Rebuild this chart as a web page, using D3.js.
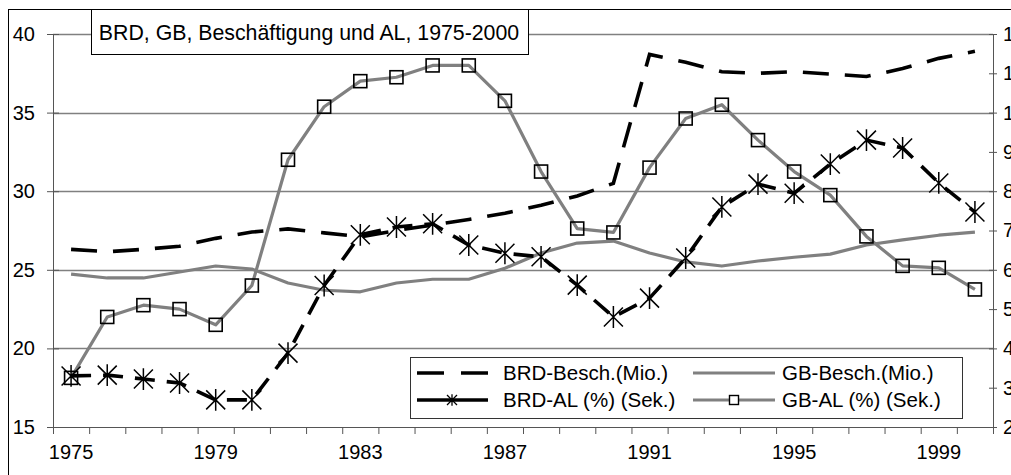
<!DOCTYPE html>
<html><head><meta charset="utf-8">
<script src="https://cdn.jsdelivr.net/npm/d3@7"></script>
<style>
html,body{margin:0;padding:0;background:#fff;overflow:hidden}
svg{display:block;font-family:"Liberation Sans",Arial,sans-serif}
</style></head>
<body>
<svg id="chart" width="1011" height="475"></svg>
<script>
const years = [1975,1976,1977,1978,1979,1980,1981,1982,1983,1984,1985,1986,1987,1988,1989,1990,1991,1992,1993,1994,1995,1996,1997,1998,1999,2000];
const yearLabels = [1975,1979,1983,1987,1991,1995,1999];
const brdBesch = [26.3,26.15,26.3,26.5,27.0,27.4,27.6,27.35,27.1,27.5,27.85,28.2,28.6,29.1,29.7,30.5,38.7,38.2,37.6,37.5,37.6,37.45,37.3,37.8,38.45,38.9];
const gbBesch  = [24.73,24.48,24.48,24.86,25.24,25.05,24.16,23.7,23.6,24.16,24.4,24.4,25.1,26.07,26.7,26.83,26.07,25.5,25.24,25.56,25.8,26.0,26.58,26.9,27.2,27.4];
const brdAL    = [3.3,3.32,3.22,3.12,2.69,2.69,3.88,5.6,6.89,7.09,7.17,6.63,6.42,6.33,5.61,4.8,5.28,6.3,7.6,8.18,7.95,8.69,9.3,9.1,8.21,7.47];
const gbAL     = [3.25,4.8,5.1,5.0,4.6,5.6,8.8,10.15,10.8,10.9,11.2,11.2,10.3,8.5,7.05,6.95,8.6,9.85,10.2,9.3,8.5,7.9,6.85,6.1,6.05,5.5];
const leftTicks = [15,20,25,30,35,40];
const rightTicks = [2,3,4,5,6,7,8,9,10,11,12];
const title = "BRD, GB, Beschäftigung und AL, 1975-2000";
const legendLabels = ["BRD-Besch.(Mio.)","GB-Besch.(Mio.)","BRD-AL (%) (Sek.)","GB-AL (%) (Sek.)"];

const svg = d3.select("#chart");
const L = 53, R = 993, T = 34, B = 427;
const GRAY = "#808080";

const x = d3.scaleBand().domain(years).range([L, R]).padding(0);
const xc = d => x(d) + x.bandwidth()/2;
const xIdx = d3.scaleLinear().domain([0, years.length]).range([L, R]);
const yL = d3.scaleLinear().domain([15, 40]).range([B, T]);
const yR = d3.scaleLinear().domain([2, 12]).range([B, T]);

// chart area border
svg.append("rect").attr("x", 8.5).attr("y", 9.5).attr("width", 1100).attr("height", 600)
  .attr("fill", "#fff").attr("stroke", "#000").attr("stroke-width", 1);

// gridlines
svg.append("g").selectAll("line").data(leftTicks.filter(v => v > 15)).join("line")
  .attr("x1", L).attr("x2", R).attr("y1", d => Math.round(yL(d)) + 0.5).attr("y2", d => Math.round(yL(d)) + 0.5)
  .attr("stroke", GRAY).attr("stroke-width", 1.3);

// left axis
const gL = svg.append("g").attr("transform", `translate(${L},0)`)
  .call(d3.axisLeft(yL).tickValues(leftTicks).tickSize(6).tickPadding(12));
gL.select(".domain").attr("stroke", "#555");
gL.selectAll(".tick line").attr("stroke", "#555").attr("x2", 6).attr("x1", -6);
gL.selectAll("text").attr("font-size", 20).attr("fill", "#000").attr("font-family", "Liberation Sans, Arial");

// right axis
const gR = svg.append("g").attr("transform", `translate(${R},0)`)
  .call(d3.axisRight(yR).tickValues(rightTicks).tickSize(4).tickPadding(6));
gR.select(".domain").attr("stroke", "#555");
gR.selectAll(".tick line").attr("stroke", "#555").attr("x1", -4).attr("x2", 4);
gR.selectAll("text").attr("font-size", 20).attr("fill", "#000").attr("x", 10).attr("font-family", "Liberation Sans, Arial");

// bottom axis (ticks between categories)
const gB = svg.append("g").attr("transform", `translate(0,${B})`)
  .call(d3.axisBottom(xIdx).tickValues(d3.range(0, years.length + 1)).tickSize(7).tickFormat(""));
gB.select(".domain").attr("stroke", "#555");
gB.selectAll(".tick line").attr("stroke", "#555");
svg.append("g").selectAll("text").data(yearLabels).join("text")
  .attr("x", d => xc(d)).attr("y", 459).attr("text-anchor", "middle")
  .attr("font-size", 20).text(d => d);

// lines
const lineL = d3.line().x((d, i) => xc(years[i])).y(d => yL(d));
const lineR = d3.line().x((d, i) => xc(years[i])).y(d => yR(d));

svg.append("path").datum(gbBesch).attr("d", lineL).attr("fill", "none")
  .attr("stroke", GRAY).attr("stroke-width", 3.2).attr("stroke-linejoin", "round");
svg.append("path").datum(brdBesch).attr("d", lineL).attr("fill", "none")
  .attr("stroke", "#000").attr("stroke-width", 3.6).attr("stroke-dasharray", "26,16");
svg.append("path").datum(gbAL).attr("d", lineR).attr("fill", "none")
  .attr("stroke", GRAY).attr("stroke-width", 3.2).attr("stroke-linejoin", "round");
svg.append("path").datum(brdAL).attr("d", lineR).attr("fill", "none")
  .attr("stroke", "#000").attr("stroke-width", 3.6).attr("stroke-dasharray", "20,12");

// markers
const star = (s) => `M${-s},${-s}L${s},${s}M${-s},${s}L${s},${-s}M0,${-s*1.15}L0,${s*1.15}`;
svg.append("g").selectAll("path").data(brdAL).join("path")
  .attr("transform", (d, i) => `translate(${xc(years[i])},${yR(d)})`)
  .attr("d", star(9.5)).attr("fill", "none").attr("stroke", "#000").attr("stroke-width", 1.5);
svg.append("g").selectAll("rect").data(gbAL).join("rect")
  .attr("x", (d, i) => xc(years[i]) - 6.5).attr("y", d => yR(d) - 6.5)
  .attr("width", 13).attr("height", 13).attr("fill", "none").attr("stroke", "#000").attr("stroke-width", 1.6);

// legend
const lg = svg.append("g");
lg.append("rect").attr("x", 410.5).attr("y", 357.5).attr("width", 552).attr("height", 61)
  .attr("fill", "#fff").attr("stroke", "#333").attr("stroke-width", 1);
const r1 = 373, r2 = 400;
lg.append("line").attr("x1", 417).attr("x2", 488).attr("y1", r1).attr("y2", r1)
  .attr("stroke", "#000").attr("stroke-width", 3.6).attr("stroke-dasharray", "27,17");
lg.append("line").attr("x1", 693).attr("x2", 775).attr("y1", r1).attr("y2", r1)
  .attr("stroke", GRAY).attr("stroke-width", 3.2);
lg.append("line").attr("x1", 417).attr("x2", 488).attr("y1", r2).attr("y2", r2)
  .attr("stroke", "#000").attr("stroke-width", 3.6);
lg.append("path").attr("transform", `translate(452,${r2})`).attr("d", star(5))
  .attr("fill", "none").attr("stroke", "#000").attr("stroke-width", 1.3);
lg.append("line").attr("x1", 693).attr("x2", 775).attr("y1", r2).attr("y2", r2)
  .attr("stroke", GRAY).attr("stroke-width", 3.2);
lg.append("rect").attr("x", 729.5).attr("y", r2 - 4.5).attr("width", 9).attr("height", 9)
  .attr("fill", "#fff").attr("stroke", "#000").attr("stroke-width", 1.4);
const lt = [[503, r1, 0], [782, r1, 1], [503, r2, 2], [782, r2, 3]];
lg.selectAll("text.lt").data(lt).join("text").attr("class", "lt")
  .attr("x", d => d[0]).attr("y", d => d[1]).attr("dy", "0.36em")
  .attr("font-size", 20.5).text(d => legendLabels[d[2]]);

// title box
svg.append("rect").attr("x", 91.5).attr("y", 9.5).attr("width", 437).attr("height", 45)
  .attr("fill", "#fff").attr("stroke", "#000").attr("stroke-width", 1);
svg.append("text").attr("x", 309).attr("y", 32).attr("dy", "0.36em").attr("text-anchor", "middle")
  .attr("font-size", 21.3).text(title);
</script>
</body></html>
